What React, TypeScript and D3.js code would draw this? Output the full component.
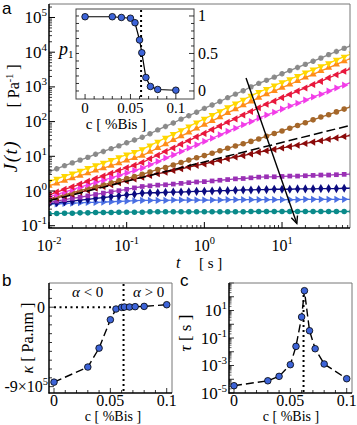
import React from "react";
import * as d3 from "d3";

// ---------- main panel (a) data: log10 J(t) ----------
const logT = [-2.0,-1.9,-1.8,-1.7,-1.6,-1.5,-1.4,-1.3,-1.2,-1.1,-1.0,-0.9,-0.8,-0.7,-0.6,-0.5,-0.4,-0.3,-0.2,-0.1,0.0,0.1,0.2,0.3,0.4,0.5,0.6,0.7,0.8,0.9,1.0,1.1,1.2,1.3,1.4,1.5,1.6,1.7,1.8,1.9];

const grayJ = [0.56,0.64,0.73,0.81,0.89,0.97,1.06,1.14,1.22,1.30,1.39,1.47,1.55,1.65,1.76,1.86,1.96,2.07,2.17,2.27,2.38,2.48,2.58,2.69,2.79,2.89,3.00,3.10,3.19,3.28,3.38,3.47,3.56,3.65,3.74,3.83,3.93,4.02,4.11,4.20];
const yellowJ = [0.27,0.35,0.43,0.50,0.58,0.66,0.74,0.81,0.89,0.97,1.05,1.12,1.20,1.31,1.42,1.53,1.64,1.75,1.86,1.97,2.08,2.19,2.30,2.41,2.52,2.63,2.74,2.85,2.94,3.04,3.13,3.22,3.31,3.41,3.50,3.59,3.68,3.78,3.87,3.96];
const orangeJ = [0.15,0.22,0.30,0.37,0.44,0.51,0.59,0.66,0.73,0.80,0.88,0.95,1.02,1.13,1.24,1.35,1.47,1.58,1.69,1.80,1.91,2.02,2.13,2.25,2.36,2.47,2.58,2.69,2.79,2.88,2.98,3.07,3.17,3.27,3.36,3.46,3.55,3.65,3.74,3.84];
const crimsonJ = [-0.11,-0.03,0.05,0.12,0.20,0.28,0.36,0.43,0.51,0.59,0.67,0.74,0.82,0.93,1.03,1.14,1.24,1.35,1.45,1.56,1.66,1.77,1.87,1.98,2.08,2.19,2.29,2.40,2.50,2.59,2.69,2.78,2.88,2.97,3.07,3.16,3.26,3.35,3.45,3.54];
const magentaJ = [-0.17,-0.10,-0.03,0.04,0.11,0.18,0.25,0.31,0.38,0.45,0.52,0.59,0.66,0.76,0.85,0.95,1.04,1.14,1.24,1.33,1.43,1.52,1.62,1.72,1.81,1.91,2.00,2.10,2.19,2.27,2.36,2.45,2.53,2.62,2.71,2.79,2.88,2.97,3.05,3.14];
const brownJ = [-0.23,-0.17,-0.11,-0.05,0.01,0.07,0.13,0.18,0.24,0.30,0.36,0.42,0.48,0.55,0.62,0.68,0.75,0.82,0.89,0.96,1.02,1.09,1.16,1.23,1.30,1.36,1.43,1.50,1.58,1.66,1.73,1.81,1.89,1.97,2.05,2.13,2.20,2.28,2.36,2.44];
const darkredJ = [-0.25,-0.20,-0.14,-0.09,-0.03,0.02,0.08,0.13,0.18,0.24,0.29,0.35,0.40,0.45,0.50,0.54,0.59,0.64,0.69,0.74,0.78,0.83,0.88,0.93,0.98,1.02,1.07,1.12,1.16,1.20,1.24,1.28,1.32,1.37,1.41,1.45,1.49,1.53,1.57,1.61];
const purpleJ = [-0.33,-0.29,-0.25,-0.21,-0.18,-0.14,-0.10,-0.06,-0.02,0.01,0.05,0.09,0.13,0.15,0.17,0.18,0.20,0.22,0.24,0.26,0.27,0.29,0.31,0.33,0.35,0.36,0.38,0.40,0.41,0.41,0.42,0.43,0.43,0.44,0.45,0.46,0.46,0.47,0.48,0.49];
const navyJ = [-0.36,-0.34,-0.31,-0.29,-0.26,-0.24,-0.21,-0.19,-0.16,-0.14,-0.11,-0.09,-0.06,-0.05,-0.05,-0.04,-0.03,-0.03,-0.02,-0.01,-0.01,0.00,0.01,0.01,0.02,0.03,0.03,0.04,0.04,0.05,0.05,0.05,0.06,0.06,0.06,0.07,0.07,0.07,0.08,0.08];
const blueJ = [-0.38,-0.37,-0.36,-0.35,-0.34,-0.33,-0.33,-0.32,-0.31,-0.30,-0.29,-0.28,-0.27,-0.27,-0.27,-0.27,-0.26,-0.26,-0.26,-0.26,-0.26,-0.26,-0.26,-0.25,-0.25,-0.25,-0.25,-0.25,-0.25,-0.25,-0.25,-0.25,-0.25,-0.24,-0.24,-0.24,-0.24,-0.24,-0.24,-0.24];
const tealJ = [-0.65,-0.65,-0.64,-0.64,-0.63,-0.63,-0.62,-0.62,-0.62,-0.61,-0.61,-0.61,-0.61,-0.60,-0.60,-0.60,-0.60,-0.60,-0.60,-0.60,-0.60,-0.60,-0.60,-0.60,-0.60,-0.60,-0.59,-0.59,-0.59,-0.59,-0.59,-0.59,-0.59,-0.59,-0.59,-0.59,-0.59,-0.59,-0.59,-0.59];

// power-law fit (dashed) end points, arrow end points
const fitT = [0.01, 75];
const fitLogJ = [-0.28, 1.89];
const arrowT = [3.44, 15.5];
const arrowJ = [1800, 0.116];

// ---------- concentration panels ----------
const conc = [0, 0.03, 0.04, 0.05, 0.055, 0.06, 0.0625, 0.067, 0.072, 0.08, 0.1];
const p1 = [0.99, 0.99, 0.98, 0.97, 0.91, 0.68, 0.51, 0.18, 0.06, 0.02, 0.01];
const kappa = [-8.49e5, -6.78e5, -4.64e5, -1.42e5, -0.21e5, -0.02e5, 0.02e5, 0.02e5, 0.06e5, 0.09e5, 0.28e5];
const tauLog = [-4.47, -4.11, -3.79, -2.94, -1.61, 0.53, 2.44, -0.47, -1.78, -2.89, -3.96];
const cCrit = 0.0617;

const serif = "'Liberation Serif', 'Times New Roman', serif";
const sans = "'Liberation Sans', Arial, sans-serif";

const seriesStyle = [
  { v: grayJ, color: "#8a8a8a", shape: "star" },
  { v: yellowJ, color: "#ffd700", shape: "tri-down" },
  { v: orangeJ, color: "#ff8c1a", shape: "tri-up" },
  { v: crimsonJ, color: "#e8173c", shape: "tri-left" },
  { v: magentaJ, color: "#f23ce8", shape: "tri-right" },
  { v: brownJ, color: "#a5672a", shape: "circle" },
  { v: darkredJ, color: "#8b0a0a", shape: "tri-left" },
  { v: purpleJ, color: "#9a30b5", shape: "square" },
  { v: navyJ, color: "#0b0b80", shape: "diamond" },
  { v: blueJ, color: "#4a6fe3", shape: "tri-right" },
  { v: tealJ, color: "#0a8a8a", shape: "circle" },
];

const P = {
  tri: d3.symbol(d3.symbolTriangle, 22)() as string,
  circle: d3.symbol(d3.symbolCircle, 24)() as string,
  square: d3.symbol(d3.symbolSquare, 22)() as string,
  diamond: d3.symbol(d3.symbolDiamond, 24)() as string,
  cross: d3.symbol(d3.symbolCross, 16)() as string,
};
const rot: Record<string, number> = { "tri-up": 0, "tri-down": 180, "tri-left": -90, "tri-right": 90 };

function Marker({ shape, color, px, py }: any) {
  const tr = `translate(${px},${py})`;
  if (shape === "star")
    return (
      <g transform={tr} fill={color}>
        <path d={P.cross} />
        <path d={P.cross} transform="rotate(45)" />
      </g>
    );
  if (shape in rot) return <path d={P.tri} transform={`${tr} rotate(${rot[shape]})`} fill={color} />;
  return <path d={(P as any)[shape]} transform={tr} fill={color} />;
}

function Sup({ x, y, base, exp, anchor, size = 16 }: any) {
  return (
    <text x={x} y={y} textAnchor={anchor} fontFamily={serif} fontSize={size}>
      {base}
      <tspan dy={-7} fontSize={size * 0.65}>{exp}</tspan>
    </text>
  );
}

export default function App() {
  // ---- main scales
  const x = d3.scaleLog().domain([0.01, 75]).range([49, 350]);
  const y = d3.scaleLog().domain([Math.pow(10, -1.066), Math.pow(10, 5.389)]).range([228, 4]);
  const line = d3
    .line<number>()
    .x((_, i) => x(Math.pow(10, logT[i])))
    .y((v) => y(Math.pow(10, v)));

  const yMajors = d3.range(-1, 6);
  const yMinors: number[] = [];
  for (let e = -2; e <= 5; e++) for (let k = 2; k <= 9; k++) {
    const v = k * Math.pow(10, e);
    if (v > y.domain()[0] && v < y.domain()[1]) yMinors.push(v);
  }
  const xMajors = [-2, -1, 0, 1];
  const xMinors: number[] = [];
  for (let e = -2; e <= 1; e++) for (let k = 2; k <= 9; k++) {
    const v = k * Math.pow(10, e);
    if (v < 75) xMinors.push(v);
  }

  // arrow
  const ax0 = x(arrowT[0]), ay0 = y(arrowJ[0]), ax1 = x(arrowT[1]), ay1 = y(arrowJ[1]);
  const ang = Math.atan2(ay1 - ay0, ax1 - ax0);
  const hl = 8, ha = 0.42;
  const head = `M${ax1 - hl * Math.cos(ang - ha)},${ay1 - hl * Math.sin(ang - ha)}L${ax1},${ay1}L${ax1 - hl * Math.cos(ang + ha)},${ay1 - hl * Math.sin(ang + ha)}`;

  // ---- inset
  const ix = d3.scaleLinear().domain([-0.01, 0.12]).range([76, 194]);
  const iy = d3.scaleLinear().domain([-0.107, 1.093]).range([99, 9]);
  const iLine = d3.line<number>().x((_, i) => ix(conc[i])).y((v) => iy(v));

  // ---- panel b
  const bx = d3.scaleLinear().domain([-0.00444, 0.1047]).range([49, 172]);
  const by = d3.scaleLinear().domain([-9.72e5, 2.74e5]).range([393, 283]);
  const bLine = d3.line<number>().x((_, i) => bx(conc[i])).y((v) => by(v));

  // ---- panel c
  const cxs = d3.scaleLinear().domain([-0.00444, 0.1047]).range([229, 352]);
  const cys = d3.scaleLog().domain([1e-5, 1e3]).range([393, 283]);
  const cLine = d3.line<number>().x((_, i) => cxs(conc[i])).y((v) => cys(Math.pow(10, v)));
  const cMinors: number[] = [];
  for (let e = -5; e < 3; e++) for (let k = 2; k <= 9; k++) cMinors.push(k * Math.pow(10, e));

  const cTicks01 = d3.range(0, 0.1001, 0.01);
  const cMaj = [0, 0.05, 0.1];

  const dot = "#3d64d8";

  return (
    <svg width={357} height={425} style={{ display: "block", position: "absolute", left: 0, top: 0 }}>
      <rect width={357} height={425} fill="#fff" />
      <defs>
        <clipPath id="mainclip">
          <rect x={49} y={4} width={301} height={224} />
        </clipPath>
      </defs>

      {/* ===== panel a ===== */}
      <g clipPath="url(#mainclip)">
        {seriesStyle.slice().reverse().map((s, si) => (
          <g key={si}>
            <path d={line(s.v) as string} fill="none" stroke={s.color} strokeWidth={1.3} />
            {s.v.map((v, i) => (
              <Marker key={i} shape={s.shape} color={s.color} px={x(Math.pow(10, logT[i]))} py={y(Math.pow(10, v))} />
            ))}
          </g>
        ))}
        <line
          x1={x(fitT[0])} y1={y(Math.pow(10, fitLogJ[0]))}
          x2={x(fitT[1])} y2={y(Math.pow(10, fitLogJ[1]))}
          stroke="#000" strokeWidth={1.5} strokeDasharray="9,4"
        />
        <line x1={ax0} y1={ay0} x2={ax1} y2={ay1} stroke="#000" strokeWidth={1.4} />
        <path d={head} fill="none" stroke="#000" strokeWidth={1.4} />
      </g>

      {/* main ticks */}
      {yMajors.map((e) => (
        <line key={"ym" + e} x1={49} x2={55} y1={y(Math.pow(10, e))} y2={y(Math.pow(10, e))} stroke="#000" />
      ))}
      {yMinors.map((v, i) => (
        <line key={"yn" + i} x1={49} x2={52} y1={y(v)} y2={y(v)} stroke="#000" strokeWidth={0.8} />
      ))}
      {xMajors.map((e) => (
        <line key={"xm" + e} x1={x(Math.pow(10, e))} x2={x(Math.pow(10, e))} y1={228} y2={222} stroke="#000" />
      ))}
      {xMinors.map((v, i) => (
        <line key={"xn" + i} x1={x(v)} x2={x(v)} y1={228} y2={225} stroke="#000" strokeWidth={0.8} />
      ))}
      <line x1={49} x2={350} y1={4} y2={4} stroke="#777" />
      <line x1={350} x2={350} y1={4} y2={228} stroke="#777" />
      <line x1={49} x2={49} y1={4} y2={228.5} stroke="#000" strokeWidth={1.5} />
      <line x1={48.5} x2={350} y1={228} y2={228} stroke="#000" strokeWidth={1.5} />

      {yMajors.map((e) => (
        <Sup key={"yl" + e} x={47} y={y(Math.pow(10, e)) + 5.5} base="10" exp={String(e)} anchor="end" size={17} />
      ))}
      {xMajors.map((e) => (
        <Sup key={"xl" + e} x={x(Math.pow(10, e))} y={251} base="10" exp={String(e)} anchor="middle" size={16} />
      ))}
      <text x={176} y={268} fontFamily={serif} fontSize={16} fontStyle="italic">t</text>
      <text x={199} y={268} fontFamily={serif} fontSize={15}>[ s ]</text>
      <text transform="translate(17,156) rotate(-90)" textAnchor="middle" fontFamily={serif} fontSize={19} fontStyle="italic" letterSpacing={1.5}>
        J(t)
      </text>
      <text transform="translate(19,86) rotate(-90)" textAnchor="middle" fontFamily={serif} fontSize={16}>
        [ Pa<tspan dy={-6} fontSize={10}>-1</tspan><tspan dy={6}> ]</tspan>
      </text>
      <text x={2} y={14} fontFamily={sans} fontSize={17}>a</text>

      {/* ===== inset ===== */}
      <rect x={76} y={9} width={118} height={90} fill="#fff" stroke="#444" strokeWidth={1} />
      {d3.range(0, 1.001, 0.1).map((v, i) => (
        <g key={"ip" + i}>
          <line x1={76} x2={79} y1={iy(v)} y2={iy(v)} stroke="#000" strokeWidth={0.8} />
          <line x1={194} x2={i % 5 === 0 ? 189 : 191} y1={iy(v)} y2={iy(v)} stroke="#000" strokeWidth={0.8} />
        </g>
      ))}
      {cTicks01.map((v, i) => (
        <line key={"ic" + i} x1={ix(v)} x2={ix(v)} y1={99} y2={i % 5 === 0 ? 94 : 96} stroke="#000" strokeWidth={0.8} />
      ))}
      <line x1={ix(cCrit)} x2={ix(cCrit)} y1={10} y2={98} stroke="#000" strokeWidth={2} strokeDasharray="2,3" />
      <path d={iLine(p1) as string} fill="none" stroke="#000" strokeWidth={1.2} />
      {p1.map((v, i) => (
        <circle key={"ipc" + i} cx={ix(conc[i])} cy={iy(v)} r={3.3} fill={dot} stroke="#000" strokeWidth={0.8} />
      ))}
      {cMaj.map((v) => (
        <text key={"icl" + v} x={ix(v)} y={113} textAnchor="middle" fontFamily={serif} fontSize={15}>{String(v)}</text>
      ))}
      {[1, 0.5, 0].map((v) => (
        <text key={"ipl" + v} x={198} y={iy(v) + 5.5} fontFamily={serif} fontSize={16}>{String(v)}</text>
      ))}
      <text x={116} y={129} textAnchor="middle" fontFamily={serif} fontSize={15}>c  [ %Bis ]</text>
      <text x={59} y={55} fontFamily={serif} fontSize={18} fontStyle="italic">
        p<tspan dy={3} fontSize={11} fontStyle="normal">1</tspan>
      </text>

      {/* ===== panel b ===== */}
      {d3.range(-9, 3).map((k) => (
        <line key={"bk" + k} x1={49} x2={k === 0 || k === -9 ? 54 : 52} y1={by(k * 1e5)} y2={by(k * 1e5)} stroke="#000" strokeWidth={0.8} />
      ))}
      {cTicks01.map((v, i) => (
        <line key={"bc" + i} x1={bx(v)} x2={bx(v)} y1={393} y2={i % 5 === 0 ? 388 : 390} stroke="#000" strokeWidth={0.8} />
      ))}
      <line x1={bx(0)} x2={bx(cCrit)} y1={by(0)} y2={by(0)} stroke="#000" strokeWidth={2} strokeDasharray="2,3.5" />
      <line x1={bx(cCrit)} x2={bx(cCrit)} y1={284} y2={392} stroke="#000" strokeWidth={2} strokeDasharray="2,3" />
      <path d={bLine(kappa) as string} fill="none" stroke="#000" strokeWidth={1.4} strokeDasharray="8,4" />
      {kappa.map((v, i) => (
        <circle key={"bp" + i} cx={bx(conc[i])} cy={by(v)} r={3.3} fill={dot} stroke="#000" strokeWidth={0.8} />
      ))}
      <line x1={49} x2={172} y1={283} y2={283} stroke="#777" />
      <line x1={172} x2={172} y1={283} y2={393} stroke="#777" />
      <line x1={49} x2={49} y1={283} y2={393.5} stroke="#000" strokeWidth={1.5} />
      <line x1={48.5} x2={172} y1={393} y2={393} stroke="#000" strokeWidth={1.5} />
      <text x={45} y={by(0) + 5.5} textAnchor="end" fontFamily={serif} fontSize={16}>0</text>
      <text x={48} y={by(-9e5) + 5.5} textAnchor="end" fontFamily={serif} fontSize={16}>
        -9×10<tspan dy={-7} fontSize={10.5}>5</tspan>
      </text>
      {cMaj.map((v) => (
        <text key={"bcl" + v} x={bx(v)} y={406} textAnchor="middle" fontFamily={serif} fontSize={16}>{String(v)}</text>
      ))}
      <text x={113} y={421} textAnchor="middle" fontFamily={serif} fontSize={14}>c  [ %Bis ]</text>
      <text x={72} y={297} fontFamily={serif} fontSize={15}>
        <tspan fontStyle="italic">α</tspan> &lt; 0
      </text>
      <text x={133} y={297} fontFamily={serif} fontSize={15}>
        <tspan fontStyle="italic">α</tspan> &gt; 0
      </text>
      <text transform="translate(33,338) rotate(-90)" textAnchor="middle" fontFamily={serif} fontSize={16}>
        <tspan fontStyle="italic">κ</tspan>  [ Pa.nm ]
      </text>
      <text x={2} y={286} fontFamily={sans} fontSize={17}>b</text>

      {/* ===== panel c ===== */}
      {d3.range(-5, 4).map((e) => (
        <line key={"cm" + e} x1={229} x2={234} y1={cys(Math.pow(10, e))} y2={cys(Math.pow(10, e))} stroke="#000" strokeWidth={0.8} />
      ))}
      {cMinors.map((v, i) => (
        <line key={"cn" + i} x1={229} x2={231.5} y1={cys(v)} y2={cys(v)} stroke="#000" strokeWidth={0.6} />
      ))}
      {cTicks01.map((v, i) => (
        <line key={"cc" + i} x1={cxs(v)} x2={cxs(v)} y1={393} y2={i % 5 === 0 ? 388 : 390} stroke="#000" strokeWidth={0.8} />
      ))}
      <line x1={cxs(cCrit)} x2={cxs(cCrit)} y1={290} y2={392} stroke="#000" strokeWidth={2} strokeDasharray="2,3" />
      <path d={cLine(tauLog) as string} fill="none" stroke="#000" strokeWidth={1.4} strokeDasharray="8,4" />
      {tauLog.map((v, i) => (
        <circle key={"cp" + i} cx={cxs(conc[i])} cy={cys(Math.pow(10, v))} r={3.3} fill={dot} stroke="#000" strokeWidth={0.8} />
      ))}
      <line x1={229} x2={352} y1={283} y2={283} stroke="#777" />
      <line x1={352} x2={352} y1={283} y2={393} stroke="#777" />
      <line x1={229} x2={229} y1={283} y2={393.5} stroke="#000" strokeWidth={1.5} />
      <line x1={228.5} x2={352} y1={393} y2={393} stroke="#000" strokeWidth={1.5} />
      {[1, -1, -3, -5].map((e) => (
        <Sup key={"cl" + e} x={227} y={cys(Math.pow(10, e)) + 5.5} base="10" exp={String(e)} anchor="end" size={17} />
      ))}
      {cMaj.map((v) => (
        <text key={"ccl" + v} x={cxs(v)} y={406} textAnchor="middle" fontFamily={serif} fontSize={16}>{String(v)}</text>
      ))}
      <text x={291} y={421} textAnchor="middle" fontFamily={serif} fontSize={14}>c  [ %Bis ]</text>
      <text transform="translate(191,333) rotate(-90)" textAnchor="middle" fontFamily={serif} fontSize={17}>
        <tspan fontStyle="italic">τ</tspan>  [ s ]
      </text>
      <text x={180} y={286} fontFamily={sans} fontSize={17}>c</text>
    </svg>
  );
}
